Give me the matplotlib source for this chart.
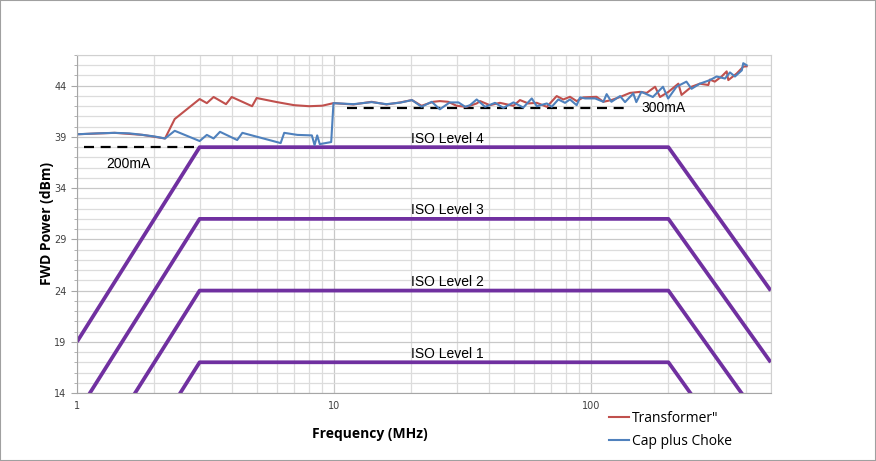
import matplotlib
matplotlib.use("Agg")
import matplotlib.pyplot as plt
from matplotlib.patches import Rectangle
from matplotlib.ticker import FixedLocator, NullFormatter

# ---- measured data ----
tf_freq = [1.0, 1.4, 1.8, 2.2, 2.4, 3.0, 3.2, 3.4, 3.8, 4.0, 4.8, 5.0, 6.0, 7.0, 8.0, 9.0,
           9.95, 11.9, 14.0, 16.0, 18.1, 20.1, 21.9, 24.3, 25.8, 27.8, 30.0, 32.8, 35.9,
           37.0, 40.4, 44.2, 49.9, 52.9, 57.0, 61.5, 67.3, 73.5, 78.0, 82.8, 87.9, 93.3,
           105, 111.7, 120, 129.7, 141.8, 155, 164.7, 177.5, 185.5, 200, 218.6, 225,
           246, 265, 286, 290, 303, 322, 337, 342, 369, 391, 403]
tf_dbm = [39.26, 39.4, 39.2, 38.85, 40.75, 42.7, 42.3, 42.9, 42.2, 42.9, 42.0, 42.8, 42.4,
          42.1, 42.0, 42.05, 42.3, 42.17, 42.43, 42.17, 42.37, 42.6, 42.04, 42.43, 42.5,
          42.43, 42.04, 41.94, 42.27, 42.5, 42.1, 42.33, 42.04, 42.6, 42.27, 42.33, 41.94,
          42.99, 42.66, 42.92, 42.5, 42.86, 42.92, 42.43, 42.6, 42.9, 43.3, 43.4, 43.3,
          43.9, 42.9, 43.4, 44.2, 43.1, 43.9, 44.2, 44.07, 44.6, 44.4, 44.9, 45.4, 44.55,
          45.2, 45.86, 45.9]

cc_freq = [1.0, 1.2, 1.4, 1.6, 1.8, 2.0, 2.2, 2.4, 3.0, 3.2, 3.4, 3.6, 4.2, 4.4, 6.2, 6.4,
           7.2, 8.2, 8.4, 8.6, 8.8, 9.75, 9.95, 11.9, 14.0, 16.0, 18.1, 20.1, 21.9, 24.0,
           25.8, 28.2, 30.5, 32.4, 33.8, 35.9, 38.7, 42.3, 45.6, 49.9, 54.5, 58.8, 61.5,
           67.3, 70.3, 74.6, 79.2, 82.8, 87.9, 90.6, 94.8, 103.7, 111.7, 115, 120, 129.7,
           135.6, 146, 150, 157, 174, 190.5, 199.5, 215, 235, 246, 265, 290, 308, 332,
           347, 363, 386, 391, 403]
cc_dbm = [39.26, 39.35, 39.4, 39.35, 39.2, 39.05, 38.85, 39.6, 38.6, 39.2, 38.85, 39.5,
          38.7, 39.4, 38.4, 39.4, 39.2, 39.15, 38.2, 39.15, 38.3, 38.5, 42.3, 42.2, 42.4,
          42.2, 42.35, 42.6, 41.95, 42.43, 41.7, 42.37, 42.37, 41.94, 42.1, 42.66, 41.94,
          42.33, 41.84, 42.37, 41.87, 42.76, 42.0, 42.27, 41.94, 42.66, 42.33, 42.66, 42.1,
          42.86, 42.76, 42.76, 42.43, 43.18, 42.43, 42.99, 42.4, 43.25, 42.4, 43.4, 42.9,
          43.9, 42.75, 43.9, 44.4, 43.7, 44.2, 44.55, 44.9, 44.7, 45.3, 44.9, 45.5, 46.2,
          46.0]

# ISO limit curves (break points in MHz, dBm per level)
iso_freq = [1, 3, 200, 500]
iso_levels = {"ISO Level 1": [-2, 17, 17, 3],
              "ISO Level 2": [5, 24, 24, 10],
              "ISO Level 3": [12, 31, 31, 17],
              "ISO Level 4": [19, 38, 38, 24]}

# current reference lines
ref_200_freq = [1.065, 3.0]
ref_200_dbm = [38.0, 38.0]
ref_300_freq = [11.2, 142]
ref_300_dbm = [41.85, 41.85]

y_ticks = [14, 19, 24, 29, 34, 39, 44]

fig = plt.figure(figsize=(8.76, 4.61), dpi=100)
ax = fig.add_axes([77 / 876, 1 - 393 / 461, (770.7 - 77) / 876, (393 - 55) / 461])

ax.set_xscale("log")
ax.set_xlim(1, 500)
ax.set_ylim(14, 47)

# grid
minor_x = [m * 10 ** e for e in range(0, 3) for m in range(2, 10) if m * 10 ** e <= 500]
ax.xaxis.set_major_locator(FixedLocator([1, 10, 100]))
ax.xaxis.set_minor_locator(FixedLocator(minor_x))
ax.xaxis.set_minor_formatter(NullFormatter())
ax.set_xticklabels(["1", "10", "100"])
ax.yaxis.set_major_locator(FixedLocator(y_ticks))
ax.yaxis.set_minor_locator(FixedLocator(range(14, 48)))
ax.grid(which="major", color="#c8c8c8", lw=0.9)
ax.grid(which="minor", color="#dcdcdc", lw=0.9)
ax.set_axisbelow(True)
for s in ax.spines.values():
    s.set_color("#d0d0d0")
ax.spines["left"].set_color("#a6a6a6")
ax.spines["bottom"].set_color("#a6a6a6")
ax.tick_params(which="both", colors="#a6a6a6", labelcolor="#404040", labelsize=7)
ax.tick_params(axis="y", which="major", length=4)
ax.tick_params(axis="y", which="minor", length=2)
ax.tick_params(axis="x", which="both", length=0, pad=6)

# ISO limit lines
for name, vals in iso_levels.items():
    ax.plot(iso_freq, vals, color="#7030a0", lw=2.7, solid_capstyle="butt", clip_on=True)
    ax.text(27.5, vals[1] + 0.15, name, ha="center", va="bottom",
            fontsize=10, family="Liberation Sans", color="black")

# reference dashes
ax.plot(ref_200_freq, ref_200_dbm, color="black", lw=1.6, dashes=(4.5, 3))
ax.plot(ref_300_freq, ref_300_dbm, color="black", lw=1.6, dashes=(4.5, 3))
ax.text(1.58, 37.0, "200mA", ha="center", va="top", fontsize=10, family="Liberation Sans")
ax.text(157, 41.85, "300mA", ha="left", va="center", fontsize=10, family="Liberation Sans")

# measurements
ax.plot(tf_freq, tf_dbm, color="#c0504d", lw=1.5, label='Transformer"')
ax.plot(cc_freq, cc_dbm, color="#4f81bd", lw=1.5, label="Cap plus Choke")

fig.text(370 / 876, 1 - 434 / 461, "Frequency (MHz)", ha="center", va="center",
         fontsize=10, fontweight="bold", family="Open Sans")
fig.text(47 / 876, 1 - 223 / 461, "FWD Power (dBm)", ha="center", va="center",
         rotation=90, fontsize=10, fontweight="bold", family="Open Sans")

leg = fig.legend(loc="upper left", bbox_to_anchor=(596 / 876, 1 - 398 / 461),
                 frameon=False, handlelength=1.5, handletextpad=0.2,
                 labelspacing=0.6, prop={"family": "Open Sans", "size": 10})

# outer frame
fig.patches.append(Rectangle((0, 0), 1, 1, transform=fig.transFigure, fill=False,
                             edgecolor="#a0a0a0", lw=1.5))

fig.savefig("out.png", dpi=100)
